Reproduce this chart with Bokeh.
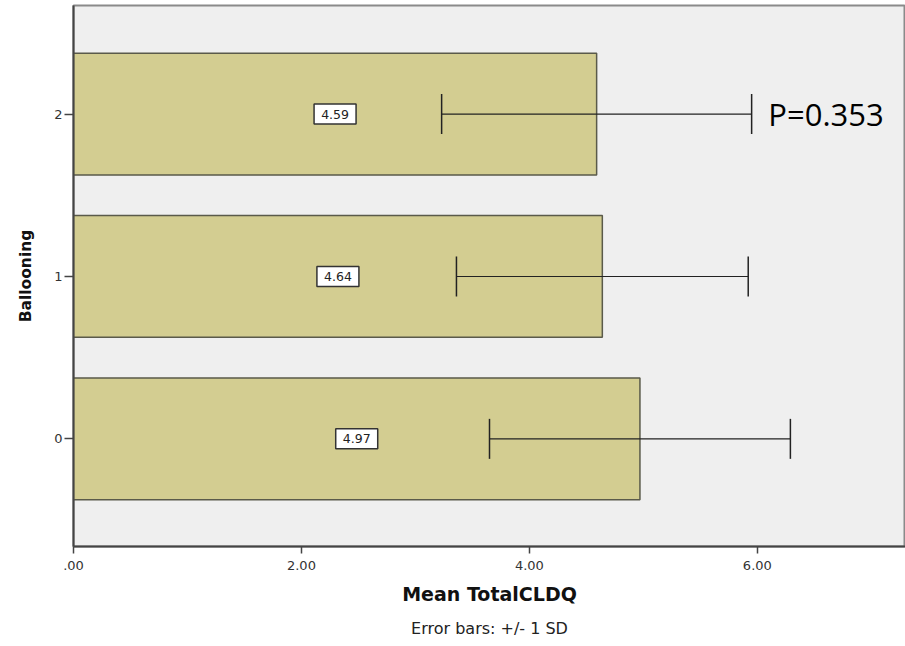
from bokeh.plotting import figure
from bokeh.models import ColumnDataSource, Whisker, TeeHead, Label, FixedTicker, Title, Range1d
from bokeh.core.properties import value
from bokeh.embed import file_html
from bokeh.resources import INLINE

# Data
categories = [0, 1, 2]
means = [4.97, 4.64, 4.59]
sds = [1.32, 1.28, 1.36]
mean_labels = ["4.97", "4.64", "4.59"]
x_ticks = [0, 2, 4, 6]
x_tick_labels = [".00", "2.00", "4.00", "6.00"]
p_text = "P=0.353"

lower = [m - s for m, s in zip(means, sds)]
upper = [m + s for m, s in zip(means, sds)]
label_x = [m / 2 for m in means]

src = ColumnDataSource(dict(y=categories, right=means, lo=lower, hi=upper,
                            lx=label_x, lab=mean_labels))

p = figure(width=905, height=646, output_backend="svg", toolbar_location=None,
           x_range=Range1d(0, 7.30), y_range=Range1d(-0.663, 2.669),
           min_border_left=73, min_border_right=0, min_border_top=5, min_border_bottom=98)

p.background_fill_color = "#efefef"
p.border_fill_color = "white"
p.outline_line_color = "#8a8a8a"
p.outline_line_width = 2
p.grid.visible = False

p.hbar(y="y", right="right", left=0, height=0.75, source=src,
       fill_color="#d3cd91", line_color="#5a5a4a", line_width=1.5)

w = Whisker(source=src, base="y", lower="lo", upper="hi", dimension="width",
            line_color="#222222", line_width=1.2, level="overlay",
            lower_head=TeeHead(size=40, line_color="#222222", line_width=1.5),
            upper_head=TeeHead(size=40, line_color="#222222", line_width=1.5))
p.add_layout(w)

p.rect(x="lx", y="y", width=42, height=20, width_units="screen", height_units="screen",
       source=src, fill_color="white", line_color="#333333", line_width=1.5)
p.text(x="lx", y="y", text="lab", source=src, text_align="center", text_baseline="middle",
       text_font=value("DejaVu Sans"), text_font_size="12.5px", text_color="#222222")

p.add_layout(Label(x=6.096, y=2, text=p_text, text_align="left", text_baseline="middle",
                   text_font="Open Sans", text_font_size="31px", text_color="black"))

# Axes
p.xaxis.ticker = FixedTicker(ticks=x_ticks)
p.xaxis.major_label_overrides = {t: l for t, l in zip(x_ticks, x_tick_labels)}
p.yaxis.ticker = FixedTicker(ticks=categories)
for ax in (p.xaxis, p.yaxis):
    ax.minor_tick_line_color = None
    ax.major_tick_in = 0
    ax.axis_line_color = "#444444"
    ax.axis_line_width = 2
    ax.major_tick_line_color = "#444444"
    ax.major_tick_line_width = 1.5
    ax.major_label_text_font = "DejaVu Sans"
    ax.major_label_text_font_size = "13px"
    ax.major_label_text_color = "#333333"
    ax.axis_label_text_font = "DejaVu Sans"
    ax.axis_label_text_font_style = "bold"
    ax.axis_label_text_color = "#111111"
p.xaxis.major_tick_out = 7
p.xaxis.major_label_standoff = 7
p.xaxis.axis_label = "Mean TotalCLDQ"
p.xaxis.axis_label_text_font_size = "19px"
p.xaxis.axis_label_standoff = 10
p.yaxis.major_tick_out = 9
p.yaxis.major_label_standoff = 2
p.yaxis.axis_label = "Ballooning"
p.yaxis.axis_label_text_font_size = "15.5px"
p.yaxis.axis_label_standoff = 16

note = Title(text="Error bars: +/- 1 SD", align="center", text_font="DejaVu Sans",
             text_font_size="16px", text_font_style="normal", text_color="#222222",
             standoff=18)
p.add_layout(note, "below")

open("out.html", "w").write(file_html(p, INLINE))
